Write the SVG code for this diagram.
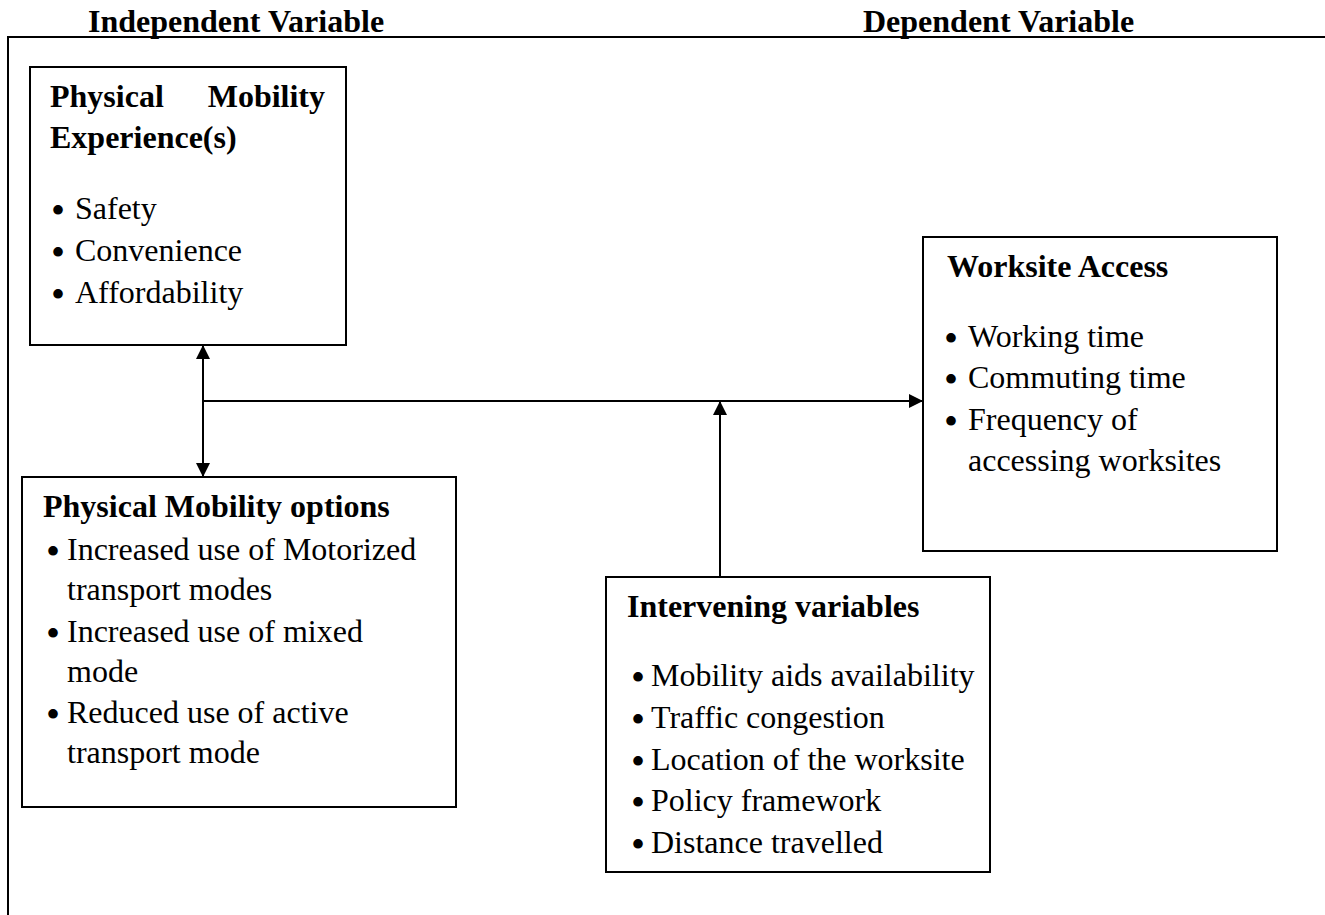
<svg xmlns="http://www.w3.org/2000/svg" width="1325" height="915" viewBox="0 0 1325 915">
  <style>
    text { font-family: "Liberation Serif", "Times New Roman", serif; fill: #000; font-size: 32px; }
    .b { font-weight: bold; }
    .bu { font-size: 40px; text-anchor: middle; }
    .box { fill: #fff; stroke: #000; stroke-width: 2; }
    .ln { fill: none; stroke: #000; stroke-width: 2; }
  </style>
  <defs>
    <marker id="ah" viewBox="0 0 14 14" refX="14" refY="7" markerWidth="14" markerHeight="14" markerUnits="userSpaceOnUse" orient="auto-start-reverse">
      <path d="M0,0 L14,7 L0,14 z" fill="#000"/>
    </marker>
  </defs>
  <rect width="1325" height="915" fill="#fff"/>

  <g id="frame">
    <path class="ln" d="M8,915 L8,37 L1325,37"/>
    <text class="b" x="88" y="32">Independent Variable</text>
    <text class="b" x="863" y="32">Dependent Variable</text>
  </g>

  <g id="connectors">
    <line class="ln" x1="203" y1="345" x2="203" y2="477" marker-start="url(#ah)" marker-end="url(#ah)"/>
    <line class="ln" x1="203" y1="401" x2="923" y2="401" marker-end="url(#ah)"/>
    <line class="ln" x1="720" y1="577" x2="720" y2="401" marker-end="url(#ah)"/>
  </g>

  <g id="node-experience">
    <rect class="box" x="30" y="67" width="316" height="278"/>
    <text class="b" x="50" y="107">Physical</text>
    <text class="b" x="325" y="107" text-anchor="end">Mobility</text>
    <text class="b" x="50" y="148">Experience(s)</text>
    <text class="bu" x="58" y="224">•</text><text x="75" y="219">Safety</text>
    <text class="bu" x="58" y="266">•</text><text x="75" y="261">Convenience</text>
    <text class="bu" x="58" y="308">•</text><text x="75" y="303">Affordability</text>
  </g>

  <g id="node-options">
    <rect class="box" x="22" y="477" width="434" height="330"/>
    <text class="b" x="43" y="517">Physical Mobility options</text>
    <text class="bu" x="53" y="565">•</text><text x="67" y="560">Increased use of Motorized</text>
    <text x="67" y="600">transport modes</text>
    <text class="bu" x="53" y="647">•</text><text x="67" y="642">Increased use of mixed</text>
    <text x="67" y="682">mode</text>
    <text class="bu" x="53" y="728">•</text><text x="67" y="723">Reduced use of active</text>
    <text x="67" y="763">transport mode</text>
  </g>

  <g id="node-worksite">
    <rect class="box" x="923" y="237" width="354" height="314"/>
    <text class="b" x="947" y="277">Worksite Access</text>
    <text class="bu" x="951" y="352">•</text><text x="968" y="347">Working time</text>
    <text class="bu" x="951" y="393">•</text><text x="968" y="388">Commuting time</text>
    <text class="bu" x="951" y="435">•</text><text x="968" y="430">Frequency of</text>
    <text x="968" y="471">accessing worksites</text>
  </g>

  <g id="node-intervening">
    <rect class="box" x="606" y="577" width="384" height="295"/>
    <text class="b" x="627" y="617">Intervening variables</text>
    <text class="bu" x="638" y="691">•</text><text x="651" y="686">Mobility aids availability</text>
    <text class="bu" x="638" y="733">•</text><text x="651" y="728">Traffic congestion</text>
    <text class="bu" x="638" y="775">•</text><text x="651" y="770">Location of the worksite</text>
    <text class="bu" x="638" y="816">•</text><text x="651" y="811">Policy framework</text>
    <text class="bu" x="638" y="858">•</text><text x="651" y="853">Distance travelled</text>
  </g>
</svg>
